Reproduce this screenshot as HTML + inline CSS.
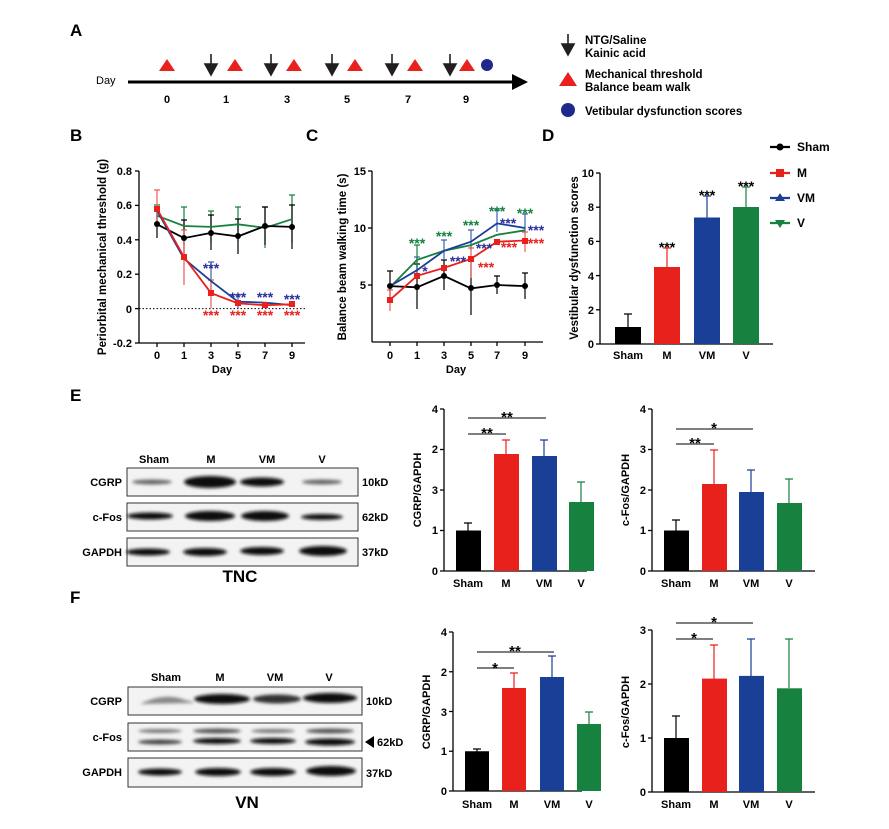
<!DOCTYPE html>
<html><head><meta charset="utf-8"><style>
html,body{margin:0;padding:0;background:#fff}
svg{display:block;font-family:"Liberation Sans",Arial,sans-serif;font-weight:bold}
</style></head><body>
<svg width="889" height="829" viewBox="0 0 889 829" xmlns="http://www.w3.org/2000/svg">
<defs><filter id="bl" x="-20%" y="-50%" width="140%" height="200%"><feGaussianBlur stdDeviation="1.6"/></filter></defs>
<g font-size="17"><text x="70" y="36">A</text><text x="70" y="141">B</text><text x="306" y="141">C</text><text x="542" y="141">D</text><text x="70" y="401">E</text><text x="70" y="603">F</text></g>

<!-- Panel A -->
<text x="96" y="84" font-size="11" font-weight="normal">Day</text>
<line x1="128" y1="82" x2="516" y2="82" stroke="#000" stroke-width="3"/>
<polygon points="512,74 528,82 512,90" fill="#000"/>
<g font-size="11" text-anchor="middle"><text x="167" y="103">0</text><text x="226" y="103">1</text><text x="287" y="103">3</text><text x="347" y="103">5</text><text x="408" y="103">7</text><text x="466" y="103">9</text></g>
<g fill="#e8211d"><polygon points="167,59 175,71 159,71"/><polygon points="235,59 243,71 227,71"/><polygon points="294,59 302,71 286,71"/><polygon points="355,59 363,71 347,71"/><polygon points="415,59 423,71 407,71"/><polygon points="467,59 475,71 459,71"/><polygon points="568,72 577,86 559,86"/></g>
<g stroke="#231f20" stroke-width="1.6" fill="#231f20"><line x1="211" y1="54" x2="211" y2="66"/><polygon points="205,64 217,64 211,75"/><line x1="271" y1="54" x2="271" y2="66"/><polygon points="265,64 277,64 271,75"/><line x1="332" y1="54" x2="332" y2="66"/><polygon points="326,64 338,64 332,75"/><line x1="392" y1="54" x2="392" y2="66"/><polygon points="386,64 398,64 392,75"/><line x1="450" y1="54" x2="450" y2="66"/><polygon points="444,64 456,64 450,75"/><line x1="568" y1="34" x2="568" y2="46"/><polygon points="562,44 574,44 568,55"/></g>
<circle cx="487" cy="65" r="6" fill="#1d2a8c"/><circle cx="568" cy="110" r="7" fill="#1d2a8c"/>
<g font-size="11.5"><text x="585" y="44">NTG/Saline</text><text x="585" y="57">Kainic acid</text><text x="585" y="78">Mechanical threshold</text><text x="585" y="91">Balance beam walk</text><text x="585" y="115">Vetibular dysfunction scores</text></g>

<!-- Panel B -->
<g stroke="#000" stroke-width="1.3"><line x1="139" y1="171" x2="139" y2="343"/><line x1="139" y1="343" x2="305" y2="343"/>
<line x1="135" y1="171" x2="139" y2="171"/><line x1="135" y1="205.4" x2="139" y2="205.4"/><line x1="135" y1="239.8" x2="139" y2="239.8"/><line x1="135" y1="274.2" x2="139" y2="274.2"/><line x1="135" y1="308.6" x2="139" y2="308.6"/><line x1="135" y1="343" x2="139" y2="343"/>
<line x1="157" y1="343" x2="157" y2="347"/><line x1="184" y1="343" x2="184" y2="347"/><line x1="211" y1="343" x2="211" y2="347"/><line x1="238" y1="343" x2="238" y2="347"/><line x1="265" y1="343" x2="265" y2="347"/><line x1="292" y1="343" x2="292" y2="347"/></g>
<line x1="139" y1="308.6" x2="305" y2="308.6" stroke="#000" stroke-dasharray="1.5,2"/>
<g font-size="11" text-anchor="end"><text x="132" y="175">0.8</text><text x="132" y="209">0.6</text><text x="132" y="244">0.4</text><text x="132" y="278">0.2</text><text x="132" y="313">0</text><text x="132" y="347">-0.2</text></g>
<g font-size="11" text-anchor="middle"><text x="157" y="359">0</text><text x="184" y="359">1</text><text x="211" y="359">3</text><text x="238" y="359">5</text><text x="265" y="359">7</text><text x="292" y="359">9</text><text x="222" y="373">Day</text></g>
<text transform="translate(106,257) rotate(-90)" font-size="11.5" text-anchor="middle">Periorbital mechanical threshold (g)</text>
<g stroke-width="1.2" fill="none">
<g stroke="#17813f"><path d="M157,205v21M154,205h6M184,207v38M181,207h6M211,211v32M208,211h6M238,207v34M235,207h6M265,207v41M262,207h6M292,195v48M289,195h6"/></g>
<g stroke="#000"><path d="M157,210v28M154,210h6M184,220v36M181,220h6M211,215v35M208,215h6M238,219v35M235,219h6M265,207v38M262,207h6M292,205v44M289,205h6"/></g>
<g stroke="#3a62b8"><path d="M211,262v30M208,262h6M238,295v13M235,295h6"/></g>
<g stroke="#f05a55"><path d="M157,190v37M154,190h6M184,230v55M181,230h6M211,280v28M208,280h6"/></g>
<polyline stroke="#17813f" stroke-width="1.8" points="157,215.7 184,226 211,226.9 238,224.3 265,227.8 292,219.2"/>
<polyline stroke="#000" stroke-width="1.8" points="157,224.3 184,238.1 211,232.9 238,236.4 265,226 292,226.9"/>
<polyline stroke="#1a3f96" stroke-width="1.8" points="157,210.6 184,258.7 211,281.1 238,301.7 265,302.6 292,305.2"/>
<polyline stroke="#e8211d" stroke-width="1.8" points="157,208.8 184,257 211,293.1 238,303.4 265,305.2 292,304.3"/>
</g>
<g><circle cx="157" cy="224" r="3"/><circle cx="184" cy="238" r="3"/><circle cx="211" cy="233" r="3"/><circle cx="238" cy="236" r="3"/><circle cx="265" cy="226" r="3"/><circle cx="292" cy="227" r="3"/>
<g fill="#e8211d"><rect x="154" y="206" width="6" height="6"/><rect x="181" y="254" width="6" height="6"/><rect x="208" y="290" width="6" height="6"/><rect x="235" y="300" width="6" height="6"/><rect x="262" y="302" width="6" height="6"/><rect x="289" y="301" width="6" height="6"/></g></g>
<g font-size="14" text-anchor="middle"><g fill="#2a2f9a"><text x="211" y="273">***</text><text x="238" y="302">***</text><text x="265" y="302">***</text><text x="292" y="304">***</text></g>
<g fill="#e8211d"><text x="211" y="320">***</text><text x="238" y="320">***</text><text x="265" y="320">***</text><text x="292" y="320">***</text></g></g>

<!-- Panel C -->
<g stroke="#000" stroke-width="1.3"><line x1="372" y1="171" x2="372" y2="342"/><line x1="372" y1="342" x2="543" y2="342"/>
<line x1="368" y1="171" x2="372" y2="171"/><line x1="368" y1="228" x2="372" y2="228"/><line x1="368" y1="285" x2="372" y2="285"/>
<line x1="390" y1="342" x2="390" y2="346"/><line x1="417" y1="342" x2="417" y2="346"/><line x1="444" y1="342" x2="444" y2="346"/><line x1="471" y1="342" x2="471" y2="346"/><line x1="497" y1="342" x2="497" y2="346"/><line x1="525" y1="342" x2="525" y2="346"/></g>
<g font-size="11" text-anchor="end"><text x="366" y="175">15</text><text x="366" y="232">10</text><text x="366" y="289">5</text></g>
<g font-size="11" text-anchor="middle"><text x="390" y="359">0</text><text x="417" y="359">1</text><text x="444" y="359">3</text><text x="471" y="359">5</text><text x="497" y="359">7</text><text x="525" y="359">9</text><text x="456" y="373">Day</text></g>
<text transform="translate(346,257) rotate(-90)" font-size="11.5" text-anchor="middle">Balance beam walking time (s)</text>
<g stroke-width="1.2" fill="none">
<g stroke="#000"><path d="M390,271v28M387,271h6M417,264v45M414,264h6M444,260v30M441,260h6M471,261v54M468,261h6M497,276v18M494,276h6M525,273v26M522,273h6"/></g>
<g stroke="#3a62b8"><path d="M417,257v20M414,257h6M444,240v20M441,240h6M471,230v20M468,230h6M497,210v22M494,210h6M525,214v20M522,214h6"/></g>
<g stroke="#17813f"><path d="M417,245v22M414,245h6"/></g>
<g stroke="#f05a55"><path d="M390,290v21M387,290h6M471,248v30M468,248h6M525,232v20M522,232h6"/></g>
<polyline stroke="#000" stroke-width="1.8" points="390,286.1 417,287.3 444,275.9 471,288.4 497,285 525,286.1"/>
<polyline stroke="#17813f" stroke-width="1.8" points="390,287.3 417,259.9 444,250.8 471,245.1 497,234.8 525,230.3"/>
<polyline stroke="#1a3f96" stroke-width="1.8" points="390,286.1 417,270.2 444,250.8 471,241.7 497,223.4 525,228"/>
<polyline stroke="#e8211d" stroke-width="1.8" points="390,299.8 417,275.9 444,267.9 471,258.8 497,241.7 525,240.5"/>
</g>
<g><circle cx="390" cy="286" r="3"/><circle cx="417" cy="287" r="3"/><circle cx="444" cy="276" r="3"/><circle cx="471" cy="288" r="3"/><circle cx="497" cy="285" r="3"/><circle cx="525" cy="286" r="3"/>
<g fill="#e8211d"><rect x="387" y="297" width="6" height="6"/><rect x="414" y="273" width="6" height="6"/><rect x="441" y="265" width="6" height="6"/><rect x="468" y="256" width="6" height="6"/><rect x="494" y="239" width="6" height="6"/><rect x="522" y="238" width="6" height="6"/></g></g>
<g font-size="14" text-anchor="middle"><g fill="#17813f"><text x="417" y="248">***</text><text x="444" y="241">***</text><text x="471" y="230">***</text><text x="497" y="216">***</text><text x="525" y="218">***</text></g>
<g fill="#2a2f9a"><text x="425" y="276">*</text><text x="458" y="266">***</text><text x="484" y="253">***</text><text x="508" y="228">***</text><text x="536" y="235">***</text></g>
<g fill="#e8211d"><text x="486" y="272">***</text><text x="509" y="252">***</text><text x="536" y="248">***</text></g></g>

<!-- Panel D -->
<g stroke="#000" stroke-width="1.3"><line x1="600" y1="173" x2="600" y2="344"/><line x1="600" y1="344" x2="773" y2="344"/>
<line x1="596" y1="173" x2="600" y2="173"/><line x1="596" y1="207.2" x2="600" y2="207.2"/><line x1="596" y1="241.4" x2="600" y2="241.4"/><line x1="596" y1="275.6" x2="600" y2="275.6"/><line x1="596" y1="309.8" x2="600" y2="309.8"/><line x1="596" y1="344" x2="600" y2="344"/></g>
<g font-size="11" text-anchor="end"><text x="594" y="177">10</text><text x="594" y="211">8</text><text x="594" y="245">6</text><text x="594" y="280">4</text><text x="594" y="314">2</text><text x="594" y="348">0</text></g>
<text transform="translate(578,258) rotate(-90)" font-size="11.5" text-anchor="middle">Vestibular dysfunction scores</text>
<g stroke-width="1.2"><path d="M628,327V314M624,314h8" stroke="#000"/><path d="M667,267V248M663,248h8" stroke="#e8211d"/><path d="M707,218V196M703,196h8" stroke="#1a3f96"/><path d="M746,207V187M742,187h8" stroke="#17813f"/></g>
<rect x="615" y="327" width="26" height="17" fill="#000"/><rect x="654" y="267" width="26" height="77" fill="#e8211d"/><rect x="694" y="217.5" width="26" height="126.5" fill="#1a3f96"/><rect x="733" y="207" width="26" height="137" fill="#17813f"/>
<g font-size="14" text-anchor="middle"><text x="667" y="252">***</text><text x="707" y="200">***</text><text x="746" y="191">***</text></g>
<g font-size="11" text-anchor="middle"><text x="628" y="359">Sham</text><text x="667" y="359">M</text><text x="707" y="359">VM</text><text x="746" y="359">V</text></g>
<g stroke-width="2.2"><line x1="770" y1="147" x2="790" y2="147" stroke="#000"/><line x1="770" y1="173" x2="790" y2="173" stroke="#e8211d"/><line x1="770" y1="198" x2="790" y2="198" stroke="#1a3f96"/><line x1="770" y1="223" x2="790" y2="223" stroke="#17813f"/></g>
<circle cx="780" cy="147" r="3.5"/><rect x="776" y="169" width="8" height="8" fill="#e8211d"/><polygon points="780,193 785,201 775,201" fill="#1a3f96"/><polygon points="775,220 785,220 780,228" fill="#17813f"/>
<g font-size="12"><text x="797" y="151">Sham</text><text x="797" y="177">M</text><text x="797" y="202">VM</text><text x="797" y="227">V</text></g>

<!-- Blots E -->
<g font-size="11"><text x="154" y="463" text-anchor="middle">Sham</text><text x="211" y="463" text-anchor="middle">M</text><text x="267" y="463" text-anchor="middle">VM</text><text x="322" y="463" text-anchor="middle">V</text>
<text x="122" y="486" text-anchor="end">CGRP</text><text x="122" y="521" text-anchor="end">c-Fos</text><text x="122" y="556" text-anchor="end">GAPDH</text>
<text x="362" y="486">10kD</text><text x="362" y="521">62kD</text><text x="362" y="556">37kD</text></g>
<g stroke="#333" stroke-width="1" fill="#f3f3f3"><rect x="127" y="468" width="231" height="28"/><rect x="127" y="503" width="231" height="28"/><rect x="127" y="538" width="231" height="28"/></g>
<g filter="url(#bl)" fill="#111"><ellipse cx="152" cy="482" rx="20" ry="2.5" fill="#666"/><ellipse cx="210" cy="482" rx="26" ry="6"/><ellipse cx="262" cy="482" rx="22" ry="4.5"/><ellipse cx="322" cy="482" rx="20" ry="2.5" fill="#666"/>
<ellipse cx="150" cy="516" rx="23" ry="3.5"/><ellipse cx="210" cy="516" rx="25" ry="5"/><ellipse cx="265" cy="516" rx="24" ry="5"/><ellipse cx="322" cy="517" rx="21" ry="3"/>
<ellipse cx="148" cy="552" rx="22" ry="3.5"/><ellipse cx="205" cy="552" rx="22" ry="4"/><ellipse cx="262" cy="551" rx="22" ry="4"/><ellipse cx="323" cy="551" rx="24" ry="5"/></g>
<text x="240" y="582" font-size="17" text-anchor="middle">TNC</text>

<!-- Blots F -->
<g font-size="11"><text x="166" y="681" text-anchor="middle">Sham</text><text x="220" y="681" text-anchor="middle">M</text><text x="275" y="681" text-anchor="middle">VM</text><text x="329" y="681" text-anchor="middle">V</text>
<text x="122" y="705" text-anchor="end">CGRP</text><text x="122" y="741" text-anchor="end">c-Fos</text><text x="122" y="776" text-anchor="end">GAPDH</text>
<text x="366" y="705">10kD</text><text x="377" y="746">62kD</text><text x="366" y="777">37kD</text></g>
<polygon points="365,742 374,736 374,748" fill="#000"/>
<g stroke="#333" stroke-width="1" fill="#f3f3f3"><rect x="128" y="687" width="234" height="28"/><rect x="128" y="723" width="234" height="28"/><rect x="128" y="758" width="234" height="29"/></g>
<g filter="url(#bl)" fill="#111"><path d="M140,704 Q165,692 185,700 Q200,703 190,703 Z" fill="#888"/><ellipse cx="222" cy="699" rx="28" ry="5"/><ellipse cx="277" cy="699" rx="24" ry="4.5" fill="#333"/><ellipse cx="330" cy="698" rx="27" ry="5"/>
<ellipse cx="160" cy="731" rx="22" ry="2" fill="#777"/><ellipse cx="217" cy="731" rx="24" ry="2.5" fill="#555"/><ellipse cx="273" cy="731" rx="22" ry="2" fill="#777"/><ellipse cx="330" cy="731" rx="24" ry="2.5" fill="#555"/>
<ellipse cx="160" cy="742" rx="22" ry="2.5" fill="#444"/><ellipse cx="217" cy="741" rx="24" ry="3"/><ellipse cx="273" cy="741" rx="23" ry="3"/><ellipse cx="330" cy="742" rx="25" ry="3.5"/>
<ellipse cx="160" cy="772" rx="22" ry="3.5"/><ellipse cx="218" cy="772" rx="23" ry="4"/><ellipse cx="273" cy="772" rx="23" ry="4"/><ellipse cx="331" cy="771" rx="25" ry="5"/></g>
<text x="247" y="808" font-size="17" text-anchor="middle">VN</text>

<!-- E CGRP bar -->
<g stroke="#000" stroke-width="1.3"><line x1="444" y1="409" x2="444" y2="571"/><line x1="444" y1="571" x2="587" y2="571"/>
<path d="M440,409h4M440,449.5h4M440,490h4M440,530.5h4M440,571h4" fill="none"/></g>
<g font-size="11" text-anchor="end"><text x="438" y="413">4</text><text x="438" y="453">2</text><text x="438" y="494">3</text><text x="438" y="534">1</text><text x="438" y="575">0</text></g>
<text transform="translate(421,490) rotate(-90)" font-size="11" text-anchor="middle">CGRP/GAPDH</text>
<g stroke-width="1.2"><path d="M468,531V523M464,523h8" stroke="#000"/><path d="M506,454V440M502,440h8" stroke="#e8211d"/><path d="M544,456V440M540,440h8" stroke="#1a3f96"/><path d="M581,502V482M577,482h8" stroke="#17813f"/></g>
<rect x="456" y="530.5" width="25" height="40.5" fill="#000"/><rect x="494" y="454" width="25" height="117" fill="#e8211d"/><rect x="532" y="456" width="25" height="115" fill="#1a3f96"/><rect x="569" y="502" width="25" height="69" fill="#17813f"/>
<g stroke="#333" stroke-width="1.2"><line x1="468" y1="418" x2="546" y2="418"/><line x1="468" y1="434" x2="506" y2="434"/></g>
<g font-size="15" text-anchor="middle"><text x="507" y="422">**</text><text x="487" y="438">**</text></g>
<g font-size="11" text-anchor="middle"><text x="468" y="587">Sham</text><text x="506" y="587">M</text><text x="544" y="587">VM</text><text x="581" y="587">V</text></g>

<!-- E cFos bar -->
<g stroke="#000" stroke-width="1.3"><line x1="652" y1="409" x2="652" y2="571"/><line x1="652" y1="571" x2="815" y2="571"/>
<path d="M648,409h4M648,449.5h4M648,490h4M648,530.5h4M648,571h4" fill="none"/></g>
<g font-size="11" text-anchor="end"><text x="646" y="413">4</text><text x="646" y="453">3</text><text x="646" y="494">2</text><text x="646" y="534">1</text><text x="646" y="575">0</text></g>
<text transform="translate(629,490) rotate(-90)" font-size="11" text-anchor="middle">c-Fos/GAPDH</text>
<g stroke-width="1.2"><path d="M676,531V520M672,520h8" stroke="#000"/><path d="M714,484V450M710,450h8" stroke="#e8211d"/><path d="M751,492V470M747,470h8" stroke="#1a3f96"/><path d="M789,503V479M785,479h8" stroke="#17813f"/></g>
<rect x="664" y="530.5" width="25" height="40.5" fill="#000"/><rect x="702" y="484" width="25" height="87" fill="#e8211d"/><rect x="739" y="492" width="25" height="79" fill="#1a3f96"/><rect x="777" y="503" width="25" height="68" fill="#17813f"/>
<g stroke="#333" stroke-width="1.2"><line x1="676" y1="429" x2="753" y2="429"/><line x1="676" y1="444" x2="714" y2="444"/></g>
<g font-size="15" text-anchor="middle"><text x="714" y="433">*</text><text x="695" y="448">**</text></g>
<g font-size="11" text-anchor="middle"><text x="676" y="587">Sham</text><text x="714" y="587">M</text><text x="751" y="587">VM</text><text x="789" y="587">V</text></g>

<!-- F CGRP bar -->
<g stroke="#000" stroke-width="1.3"><line x1="453" y1="632" x2="453" y2="791"/><line x1="453" y1="791" x2="582" y2="791"/>
<path d="M449,632h4M449,671.75h4M449,711.5h4M449,751.25h4M449,791h4" fill="none"/></g>
<g font-size="11" text-anchor="end"><text x="447" y="636">4</text><text x="447" y="676">2</text><text x="447" y="716">3</text><text x="447" y="755">1</text><text x="447" y="795">0</text></g>
<text transform="translate(430,712) rotate(-90)" font-size="11" text-anchor="middle">CGRP/GAPDH</text>
<g stroke-width="1.2"><path d="M477,752V749M473,749h8" stroke="#000"/><path d="M514,688V673M510,673h8" stroke="#e8211d"/><path d="M552,677V656M548,656h8" stroke="#1a3f96"/><path d="M589,724V712M585,712h8" stroke="#17813f"/></g>
<rect x="465" y="751.25" width="24" height="39.75" fill="#000"/><rect x="502" y="688" width="24" height="103" fill="#e8211d"/><rect x="540" y="677" width="24" height="114" fill="#1a3f96"/><rect x="577" y="724" width="24" height="67" fill="#17813f"/>
<g stroke="#333" stroke-width="1.2"><line x1="477" y1="652" x2="554" y2="652"/><line x1="477" y1="668" x2="514" y2="668"/></g>
<g font-size="15" text-anchor="middle"><text x="515" y="656">**</text><text x="495" y="673">*</text></g>
<g font-size="11" text-anchor="middle"><text x="477" y="808">Sham</text><text x="514" y="808">M</text><text x="552" y="808">VM</text><text x="589" y="808">V</text></g>

<!-- F cFos bar -->
<g stroke="#000" stroke-width="1.3"><line x1="652" y1="630" x2="652" y2="792"/><line x1="652" y1="792" x2="815" y2="792"/>
<path d="M648,630h4M648,684h4M648,738h4M648,792h4" fill="none"/></g>
<g font-size="11" text-anchor="end"><text x="646" y="634">3</text><text x="646" y="688">2</text><text x="646" y="742">1</text><text x="646" y="796">0</text></g>
<text transform="translate(629,712) rotate(-90)" font-size="11" text-anchor="middle">c-Fos/GAPDH</text>
<g stroke-width="1.2"><path d="M676,738V716M672,716h8" stroke="#000"/><path d="M714,679V645M710,645h8" stroke="#e8211d"/><path d="M751,676V639M747,639h8" stroke="#1a3f96"/><path d="M789,688V639M785,639h8" stroke="#17813f"/></g>
<rect x="664" y="738" width="25" height="54" fill="#000"/><rect x="702" y="678.6" width="25" height="113.4" fill="#e8211d"/><rect x="739" y="675.9" width="25" height="116.1" fill="#1a3f96"/><rect x="777" y="688.3" width="25" height="103.7" fill="#17813f"/>
<g stroke="#333" stroke-width="1.2"><line x1="676" y1="623" x2="753" y2="623"/><line x1="676" y1="639" x2="713" y2="639"/></g>
<g font-size="15" text-anchor="middle"><text x="714" y="627">*</text><text x="694" y="643">*</text></g>
<g font-size="11" text-anchor="middle"><text x="676" y="808">Sham</text><text x="714" y="808">M</text><text x="751" y="808">VM</text><text x="789" y="808">V</text></g>
</svg>
</body></html>
